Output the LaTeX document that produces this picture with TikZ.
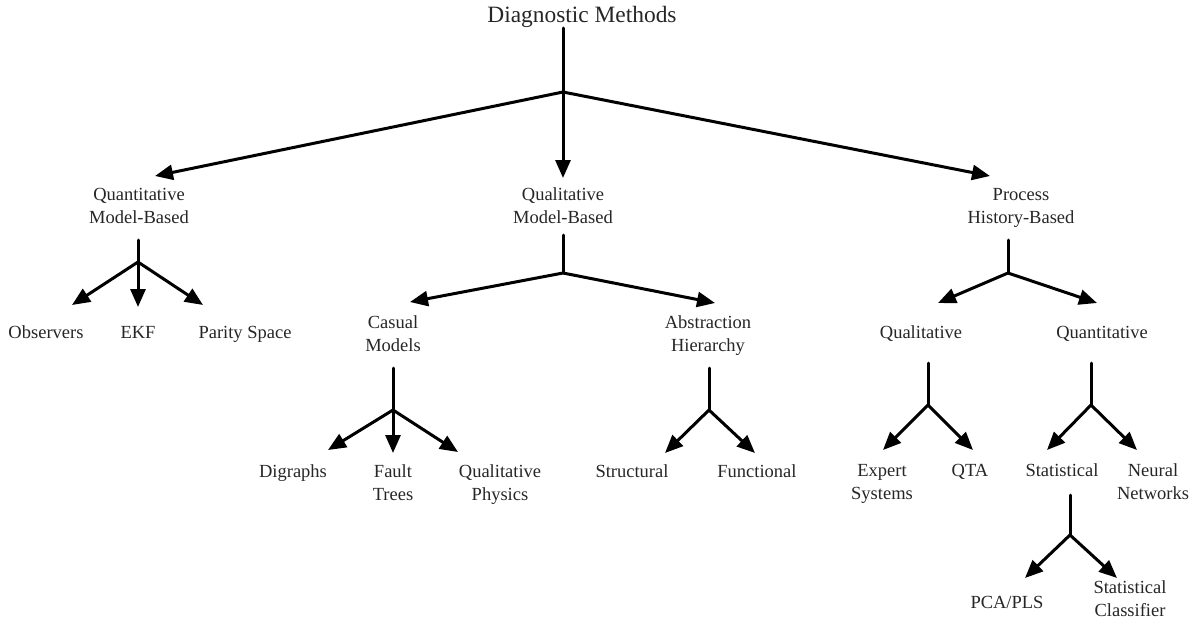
\documentclass[tikz,border=0pt]{standalone}
\usepackage{fontspec}
\setmainfont{Liberation Serif}
\usetikzlibrary{arrows.meta}
\begin{document}
\begin{tikzpicture}[x=1pt,y=-1pt,
  lbl/.style={anchor=base,align=center,inner sep=0pt,font=\fontsize{18.5}{22.5}\selectfont,text=black!85},
  ttl/.style={anchor=base,inner sep=0pt,font=\fontsize{23.4}{28}\selectfont,text=black!85},
  stem/.style={line width=3pt,line cap=round},
  arr/.style={line width=3pt,-{Triangle[length=18pt,width=15pt]}}]
\useasboundingbox (0,0) rectangle (1203,624);

% labels (anchor at the baseline of the last line)
\node[ttl] (dm) at (582,22) {Diagnostic Methods};
\node[lbl] (qmb) at (139,223) {Quantitative\\Model-Based};
\node[lbl] (lmb) at (563,223) {Qualitative\\Model-Based};
\node[lbl] (phb) at (1021,223) {Process\\History-Based};

\node[lbl] (obs) at (46,338) {Observers};
\node[lbl] (ekf) at (138,338) {EKF};
\node[lbl] (par) at (245,338) {Parity Space};

\node[lbl] (cas) at (393,351) {Casual\\Models};
\node[lbl] (abs) at (708,351) {Abstraction\\Hierarchy};

\node[lbl] (qlt) at (921,338) {Qualitative};
\node[lbl] (qnt) at (1102,338) {Quantitative};

\node[lbl] (dig) at (293,477) {Digraphs};
\node[lbl] (ftr) at (393,500) {Fault\\Trees};
\node[lbl] (qph) at (500,500) {Qualitative\\Physics};
\node[lbl] (str) at (632,477) {Structural};
\node[lbl] (fun) at (757,477) {Functional};

\node[lbl] (exp) at (882,499) {Expert\\Systems};
\node[lbl] (qta) at (970,476) {QTA};
\node[lbl] (sta) at (1062,476) {Statistical};
\node[lbl] (neu) at (1153,499) {Neural\\Networks};

\node[lbl] (pca) at (1007,608) {PCA/PLS};
\node[lbl] (scl) at (1130,616) {Statistical\\Classifier};

% branching points: stem top, fork, arrow ends
\coordinate (s0) at (563,28);   \coordinate (j0) at (563,92);
\coordinate (t0a) at (155,176); \coordinate (t0b) at (563,178); \coordinate (t0c) at (990,176);

\coordinate (s1) at (138,240);  \coordinate (j1) at (138,262);
\coordinate (t1a) at (72,305);  \coordinate (t1b) at (138,307); \coordinate (t1c) at (203,305);

\coordinate (s2) at (563,235);  \coordinate (j2) at (563,273);
\coordinate (t2a) at (410,302); \coordinate (t2b) at (715,303);

\coordinate (s3) at (1008,240); \coordinate (j3) at (1008,273);
\coordinate (t3a) at (938,303); \coordinate (t3b) at (1097,303);

\coordinate (s4) at (393,368);  \coordinate (j4) at (393,410);
\coordinate (t4a) at (328,450); \coordinate (t4b) at (393,453); \coordinate (t4c) at (458,452);

\coordinate (s5) at (709,368);  \coordinate (j5) at (709,410);
\coordinate (t5a) at (665,453); \coordinate (t5b) at (755,453);

\coordinate (s6) at (928,363);  \coordinate (j6) at (928,405);
\coordinate (t6a) at (883,450); \coordinate (t6b) at (973,450);

\coordinate (s7) at (1091,363); \coordinate (j7) at (1091,405);
\coordinate (t7a) at (1047,450); \coordinate (t7b) at (1137,450);

\coordinate (s8) at (1070,495); \coordinate (j8) at (1070,535);
\coordinate (t8a) at (1025,578); \coordinate (t8b) at (1117,578);

% connectors
\foreach \i/\tips in {0/{a,b,c},1/{a,b,c},2/{a,b},3/{a,b},4/{a,b,c},5/{a,b},6/{a,b},7/{a,b},8/{a,b}}{
  \draw[stem] (s\i) -- (j\i);
  \foreach \t in \tips { \draw[arr] (j\i) -- (t\i\t); }
}
\end{tikzpicture}
\end{document}
